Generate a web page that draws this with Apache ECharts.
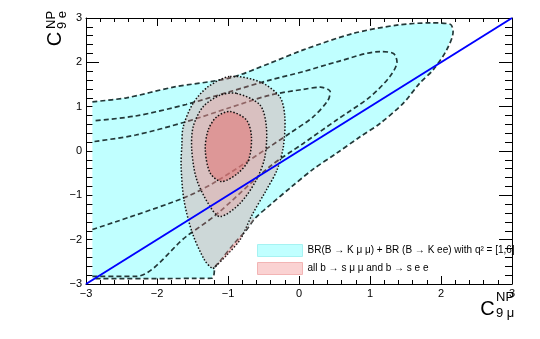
<!DOCTYPE html>
<html>
<head>
<meta charset="utf-8">
<script src="https://cdn.jsdelivr.net/npm/echarts@6/dist/echarts.min.js"></script>
<style>
  html, body { margin: 0; padding: 0; background: #fff; }
  #container { width: 540px; height: 339px; }
</style>
</head>
<body>
<div id="container"></div>
<script>
var dom = document.getElementById("container");
var myChart = echarts.init(dom);
var option = null;

// axis range / ticks
var axisMin = -3;
var axisMax = 3;

// legend names
var nameBR = "BR(B \u2192 K \u03bc \u03bc) + BR (B \u2192 K ee) with q\u00b2 = [1,6]";
var nameAll = "all b \u2192 s \u03bc \u03bc and b \u2192 s e e";

// BR(B->K mu mu)+BR(B->K ee) allowed region (outer contour)
var brOuter = [
  [-2.91, 1.11], [-2.43, 1.20], [-1.77, 1.44], [-0.97, 1.65], [-0.41, 1.98],
  [0.06, 2.28], [0.76, 2.65], [1.38, 2.84], [1.85, 2.89], [2.13, 2.86],
  [2.17, 2.69], [2.08, 2.28], [1.89, 1.83], [1.70, 1.53], [1.47, 1.08],
  [1.14, 0.62], [0.86, 0.32], [0.53, -0.05], [0.20, -0.41], [-0.10, -0.80],
  [-0.41, -1.22], [-0.62, -1.52], [-0.74, -1.78], [-0.93, -2.12], [-1.10, -2.46],
  [-1.18, -2.61], [-1.23, -2.87], [-2.91, -2.88]
];
// inner contours of the same region
var brMid = [
  [-2.91, -2.83], [-2.30, -2.83], [-1.59, -1.93], [-1.17, -1.44], [-0.41, -0.35],
  [0.06, 0.17], [0.53, 0.70], [1.00, 1.22], [1.28, 1.68], [1.38, 2.01],
  [1.33, 2.20], [1.14, 2.24], [0.53, 2.01], [0.06, 1.79], [-0.41, 1.60],
  [-0.97, 1.34], [-1.59, 1.05], [-2.30, 0.79], [-2.90, 0.68]
];
var brInner = [
  [-2.91, -1.77], [-1.64, -1.07], [-1.17, -0.69], [-0.41, 0.10], [-0.13, 0.40],
  [0.20, 0.77], [0.41, 1.15], [0.44, 1.34], [0.30, 1.44], [0.06, 1.39],
  [-0.41, 1.26], [-0.97, 0.98], [-1.59, 0.66], [-2.30, 0.36], [-2.90, 0.21]
];

// global fit contours (all b -> s mu mu and b -> s e e)
var fit3 = [
  [-0.97, 1.68], [-0.55, 1.56], [-0.27, 1.22], [-0.20, 0.77], [-0.22, 0.10],
  [-0.31, -0.43], [-0.46, -0.88], [-0.66, -1.44], [-0.83, -2.00], [-1.02, -2.35],
  [-1.18, -2.61], [-1.22, -2.65], [-1.33, -2.46], [-1.50, -1.86], [-1.62, -1.11],
  [-1.66, -0.35], [-1.65, 0.13], [-1.63, 0.55], [-1.49, 1.08], [-1.28, 1.45]
];
var fit2 = [
  [-0.88, 1.30], [-0.55, 1.04], [-0.46, 0.55], [-0.48, -0.13], [-0.60, -0.65],
  [-0.83, -1.18], [-1.11, -1.48], [-1.25, -1.26], [-1.44, -0.65], [-1.51, 0.02],
  [-1.49, 0.55], [-1.35, 1.00], [-1.11, 1.26]
];
var fit1 = [
  [-0.97, 0.89], [-0.74, 0.70], [-0.67, 0.32], [-0.71, -0.20], [-0.86, -0.50],
  [-1.09, -0.69], [-1.25, -0.50], [-1.32, 0.02], [-1.28, 0.47], [-1.16, 0.77]
];
// part of the fit region sticking out of the BR band
var fitSliver = [
  [-0.62, -1.52], [-0.74, -1.78], [-0.93, -2.12], [-1.10, -2.46], [-1.18, -2.61],
  [-1.02, -2.35], [-0.83, -2.00], [-0.66, -1.48]
];

// C9e = C9mu diagonal
var diagonal = [[-3, -3], [3, 3]];

var FONT = "Liberation Sans";

function polygonSeries(name, pts, fill, stroke, dash, z, smooth) {
  return {
    name: name,
    type: "custom",
    coordinateSystem: "cartesian2d",
    silent: true,
    z: z,
    itemStyle: { color: fill },
    data: pts,
    renderItem: function (params, api) {
      if (params.dataIndex !== 0) return;
      var points = pts.map(function (p) { return api.coord(p); });
      return {
        type: "polygon",
        shape: { points: points, smooth: smooth },
        style: {
          fill: fill,
          stroke: stroke || null,
          lineWidth: stroke ? 1.5 : 0,
          lineDash: dash || null
        }
      };
    }
  };
}

function dashedLine(pts, z) {
  return {
    type: "line",
    data: pts,
    smooth: 0.3,
    showSymbol: false,
    silent: true,
    z: z,
    lineStyle: { color: "#223838", width: 1.7, type: [5, 3] }
  };
}

function axisX(pos, labels) {
  return {
    type: "value", position: pos, min: axisMin, max: axisMax, interval: 1,
    axisLine: { onZero: false, lineStyle: { color: "#000", width: 1 } },
    axisTick: { inside: true, length: 8, lineStyle: { color: "#000" } },
    minorTick: { show: true, splitNumber: 5, length: 4, lineStyle: { color: "#000" } },
    splitLine: { show: false },
    axisLabel: {
      show: labels, margin: 4, color: "#000", fontFamily: FONT, fontSize: 11,
      formatter: function (v) { return String(v).replace("-", "\u2212"); }
    }
  };
}
function axisY(pos, labels) {
  return {
    type: "value", position: pos, min: axisMin, max: axisMax, interval: 1,
    axisLine: { onZero: false, lineStyle: { color: "#000", width: 1 } },
    axisTick: { inside: true, length: 13, lineStyle: { color: "#000" } },
    minorTick: { show: true, splitNumber: 5, length: 7, lineStyle: { color: "#000" } },
    splitLine: { show: false },
    axisLabel: {
      show: labels, margin: 4, color: "#000", fontFamily: FONT, fontSize: 11,
      formatter: function (v) { return String(v).replace("-", "\u2212"); }
    }
  };
}

option = {
  animation: false,
  backgroundColor: "#fff",
  grid: { left: 86, right: 28, top: 18, bottom: 55 },
  xAxis: [axisX("bottom", true), axisX("top", false)],
  yAxis: [axisY("left", true), axisY("right", false)],
  legend: {
    orient: "vertical",
    left: 252,
    top: 239,
    itemWidth: 45,
    itemHeight: 12,
    itemGap: 5,
    selectedMode: false,
    icon: "rect",
    textStyle: { color: "#000", fontFamily: FONT, fontSize: 10 },
    data: [
      { name: nameBR, itemStyle: { color: "#c0ffff", borderColor: "#a6f2f2", borderWidth: 1 } },
      { name: nameAll, itemStyle: { color: "#fad2d2", borderColor: "#f2b4b4", borderWidth: 1 } }
    ]
  },
  graphic: [
    // x title  C^{NP}_{9 mu}
    { type: "text", x: 487.5, y: 309, style: { text: "C", font: "20px " + FONT, fill: "#000", textAlign: "center", textVerticalAlign: "middle" } },
    { type: "text", x: 496, y: 297, style: { text: "NP", font: "13px " + FONT, fill: "#000", textAlign: "left", textVerticalAlign: "middle" } },
    { type: "text", x: 496, y: 313, style: { text: "9 \u03bc", font: "13px " + FONT, fill: "#000", textAlign: "left", textVerticalAlign: "middle" } },
    // y title  C^{NP}_{9 e}
    { type: "text", x: 55, y: 39, rotation: Math.PI / 2, style: { text: "C", font: "20px " + FONT, fill: "#000", textAlign: "center", textVerticalAlign: "middle" } },
    { type: "text", x: 51, y: 29, rotation: Math.PI / 2, style: { text: "NP", font: "13px " + FONT, fill: "#000", textAlign: "left", textVerticalAlign: "middle" } },
    { type: "text", x: 62.5, y: 29, rotation: Math.PI / 2, style: { text: "9 e", font: "13px " + FONT, fill: "#000", textAlign: "left", textVerticalAlign: "middle" } }
  ],
  series: [
    polygonSeries(nameBR, brOuter, "#c0ffff", null, null, 1, 0),
    dashedLine(brOuter, 2),
    dashedLine(brMid, 2),
    dashedLine(brInner, 2),
    polygonSeries(nameAll, fit3, "rgba(235,125,125,0.3)", "#111", [1.5, 1.8], 3, 0.3),
    polygonSeries("sliver", fitSliver, "rgba(240,150,150,0.35)", null, null, 3, 0),
    polygonSeries("fit2", fit2, "rgba(240,150,150,0.35)", "#111", [1.5, 1.8], 4, 0.3),
    polygonSeries("fit1", fit1, "rgba(225,110,110,0.5)", "#111", [1.5, 1.8], 5, 0.3),
    {
      type: "line",
      data: diagonal,
      showSymbol: false,
      silent: true,
      z: 10,
      lineStyle: { color: "#0000ff", width: 2 }
    }
  ]
};
if (option && typeof option === "object") {
  myChart.setOption(option, true);
}
</script>
</body>
</html>
